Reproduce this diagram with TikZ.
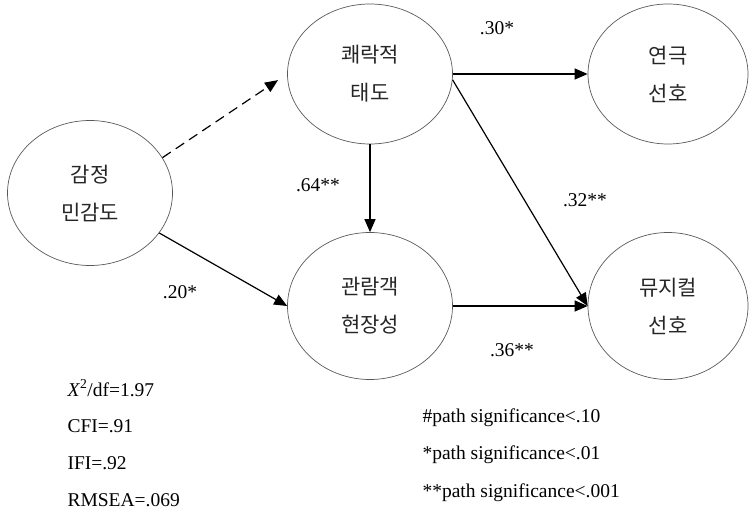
\documentclass[tikz,border=0pt]{standalone}
\usepackage{fontspec}
\setmainfont{Liberation Serif}
\newfontfamily\kr{Noto Sans CJK KR}
\usetikzlibrary{shapes.geometric, arrows.meta, positioning}
\tikzstyle{latent} = [ellipse, minimum width=165pt, minimum height=145pt, text centered, align=center, draw=black!65, line width=0.7pt, text=black!85, font=\kr\fontsize{21}{38}\selectfont]
\tikzstyle{arrow} = [line width=1.2pt, -{Triangle[length=13pt,width=11pt]}]
\tikzstyle{coef} = [font=\fontsize{19.5}{22}\selectfont]
\tikzstyle{note} = [anchor=west, font=\fontsize{19.5}{22}\selectfont]

\begin{document}
\begin{tikzpicture}[x=1pt, y=1pt]
  \useasboundingbox (0,0) rectangle (750,-511);

  \node (emo) [latent] at (90,-193) {감정\\민감도};
  \node (hed) [latent, minimum height=140pt] at (370,-74) {쾌락적\\태도};
  \node (drama) [latent, minimum width=160pt, minimum height=140pt] at (668,-74) {연극\\선호};
  \node (pres) [latent, minimum height=147pt] at (370,-306) {관람객\\현장성};
  \node (mus) [latent, minimum width=160pt, minimum height=147pt] at (668,-306) {뮤지컬\\선호};

  \draw[arrow, dash pattern=on 10pt off 6pt, shorten >=11pt] (emo.26) -- (hed.west);
  \draw[arrow] (emo.-30) -- (pres.west);
  \draw[arrow] (hed.south -| pres.north) -- (pres.north);
  \draw[arrow] (hed.east) -- (drama.west);
  \draw[arrow] (hed.-4) -- (mus.west);
  \draw[arrow] (pres.east) -- (mus.west);

  \node (c30) [coef] at (497,-28) {.30*};
  \node (c64) [coef] at (318,-185) {.64**};
  \node (c32) [coef] at (585,-200) {.32**};
  \node (c20) [coef] at (180,-292) {.20*};
  \node (c36) [coef] at (512,-350) {.36**};

  \node (chi) [note] at (64,-388) {\textit{X}\textsuperscript{2}/df=1.97};
  \node (cfi) [note] at (64,-426) {CFI=.91};
  \node (ifi) [note] at (64,-463) {IFI=.92};
  \node (rmsea) [note] at (64,-500) {RMSEA=.069};

  \node (sig1) [note] at (419,-418) {\#path significance<.10};
  \node (sig2) [note] at (419,-455) {*path significance<.01};
  \node (sig3) [note] at (419,-493) {**path significance<.001};
\end{tikzpicture}
\end{document}
